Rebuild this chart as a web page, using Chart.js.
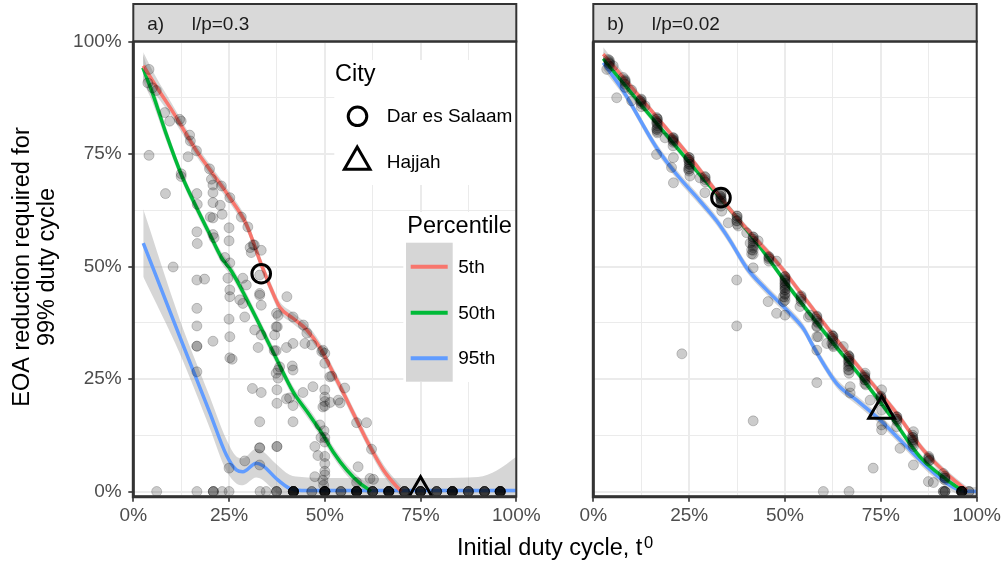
<!DOCTYPE html>
<html>
<head>
<meta charset="utf-8">
<script src="https://cdn.jsdelivr.net/npm/chart.js@4.4.0/dist/chart.umd.min.js"></script>
<style>
  html, body { margin: 0; padding: 0; background: #ffffff; }
  #wrap { position: relative; width: 1004px; height: 567px; overflow: hidden; }
  #wrap canvas { position: absolute; left: 0; top: 0; }
</style>
</head>
<body>
<div id="wrap">
  <canvas id="panelA" width="1004" height="567"></canvas>
  <canvas id="panelB" width="1004" height="567"></canvas>
</div>
<script>
// ---- tick positions and labels ----
const gridTicks = [0, 0.125, 0.25, 0.375, 0.5, 0.625, 0.75, 0.875, 1];
const majorTicks = [0, 0.25, 0.5, 0.75, 1];
const tickLabels = ['0%', '25%', '50%', '75%', '100%'];

// ---- text ----
const stripA = ['a)', 'l/p=0.3'];
const stripB = ['b)', 'l/p=0.02'];
const yTitle = ['EOA reduction required for', '99% duty cycle'];
const xTitle = 'Initial duty cycle, t';
const xTitleSup = '0';
const cityTitle = 'City';
const cities = ['Dar es Salaam', 'Hajjah'];
const percentileTitle = 'Percentile';
const percentiles = ['5th', '50th', '95th'];

// ---- panel a: scattered simulation results [duty cycle, reduction] ----
const pointsA = [
  [0.041,0.938],[0.038,0.908],[0.050,0.897],[0.060,0.891],[0.082,0.842],[0.095,0.823],[0.121,0.827],[0.125,0.823],
  [0.147,0.792],[0.149,0.779],[0.165,0.757],[0.041,0.747],[0.143,0.744],[0.199,0.717],[0.125,0.706],[0.125,0.700],
  [0.204,0.694],[0.208,0.681],[0.230,0.679],[0.084,0.662],[0.166,0.662],[0.208,0.664],[0.252,0.653],[0.167,0.638],
  [0.208,0.642],[0.227,0.636],[0.232,0.616],[0.201,0.610],[0.208,0.608],[0.282,0.610],[0.299,0.588],[0.250,0.586],
  [0.166,0.577],[0.208,0.571],[0.211,0.564],[0.250,0.557],[0.167,0.551],[0.313,0.548],[0.316,0.548],[0.305,0.542],
  [0.334,0.536],[0.308,0.531],[0.239,0.520],[0.252,0.508],[0.104,0.499],
  [0.166,0.470],[0.186,0.472],[0.247,0.474],[0.252,0.448],[0.252,0.433],[0.286,0.474],[0.295,0.459],[0.330,0.481],
  [0.330,0.440],[0.330,0.436],[0.278,0.426],[0.286,0.418],[0.334,0.414],[0.401,0.433],[0.166,0.407],[0.250,0.383],
  [0.291,0.388],[0.378,0.391],[0.374,0.396],[0.373,0.366],[0.376,0.366],[0.417,0.388],[0.166,0.368],[0.317,0.359],
  [0.334,0.348],[0.369,0.348],[0.252,0.344],[0.208,0.334],[0.166,0.323],[0.166,0.323],[0.326,0.320],[0.400,0.320],
  [0.417,0.329],[0.373,0.313],[0.368,0.313],[0.252,0.297],[0.258,0.294],[0.444,0.370],[0.453,0.352],[0.448,0.329],
  [0.466,0.326],[0.492,0.311],[0.495,0.314],[0.500,0.307],[0.500,0.285],[0.415,0.279],[0.417,0.270],[0.382,0.277],
  [0.378,0.270],[0.373,0.263],[0.378,0.252],[0.513,0.255],[0.518,0.256],[0.166,0.266],[0.311,0.229],[0.334,0.220],
  [0.375,0.226],[0.375,0.196],[0.400,0.206],[0.408,0.208],[0.417,0.191],[0.443,0.220],[0.469,0.233],[0.500,0.226],
  [0.552,0.230],[0.500,0.210],[0.500,0.200],[0.514,0.198],[0.535,0.203],[0.540,0.197],[0.500,0.190],[0.495,0.188],
  [0.330,0.155],[0.417,0.155],[0.487,0.148],[0.498,0.135],[0.500,0.120],[0.490,0.120],[0.500,0.110],[0.583,0.153],
  [0.609,0.153],[0.330,0.097],[0.330,0.097],[0.375,0.100],[0.375,0.100],[0.474,0.100],[0.622,0.094],[0.482,0.080],
  [0.500,0.078],[0.250,0.052],[0.291,0.068],[0.330,0.059],[0.500,0.062],[0.587,0.055],[0.500,0.045],[0.474,0.033],
  [0.500,0.037],[0.618,0.029],[0.627,0.027],[0.495,0.025],[0.583,0.020],[0.497,0.014]
];
// results that need no reduction (0%), with how many runs overlap at each duty cycle
const zeroAx = [0.061,0.166,0.209,0.232,0.250,0.331,0.347,0.374,0.418,0.466,0.500,0.542,0.583,0.625,0.667,0.708,0.750,0.792,0.833,0.875,0.917,0.958];
const zeroAn = [1,1,3,1,1,1,1,3,10,2,10,3,10,6,10,6,8,5,10,5,6,10];

// ---- panel a: percentile curves and their standard-error half widths ----
const red5A = [[0.026,0.946],[0.06,0.90],[0.1,0.848],[0.165,0.757],[0.2,0.715],[0.252,0.653],[0.295,0.594],[0.334,0.505],
  [0.36,0.45],[0.382,0.41],[0.417,0.385],[0.452,0.36],[0.487,0.32],[0.527,0.255],[0.553,0.211],[0.583,0.159],
  [0.618,0.10],[0.653,0.048],[0.692,0.007],[0.70,0.0]];
const red5ASe = [0.03,0.02,0.015,0.012,0.012,0.012,0.012,0.012,0.012,0.012,0.012,0.012,0.012,0.012,0.012,0.012,0.012,0.012,0.012,0.012];
const green50A = [[0.025,0.942],[0.051,0.883],[0.086,0.794],[0.125,0.705],[0.165,0.631],[0.2,0.571],[0.23,0.52],[0.256,0.49],
  [0.286,0.444],[0.33,0.37],[0.373,0.296],[0.417,0.222],[0.46,0.17],[0.495,0.126],[0.522,0.088],[0.557,0.048],
  [0.592,0.018],[0.614,0.005],[0.62,0.0]];
const green50ASe = [0.03,0.02,0.015,0.012,0.012,0.012,0.012,0.012,0.012,0.012,0.012,0.012,0.012,0.012,0.012,0.012,0.012,0.012,0.012];
const blue95A = [[0.026,0.552],[0.121,0.345],[0.2,0.175],[0.243,0.081],
  [0.269,0.048],[0.286,0.044],[0.321,0.063],[0.339,0.057],[0.373,0.029],[0.408,0.007],[0.44,0.002],[0.5,0.002],
  [0.6,0.002],[0.7,0.002],[0.8,0.002],[0.9,0.002],[0.95,0.002],[1.0,0.002]];
const blue95ASe = [0.075,0.038,0.035,0.035,0.03,0.03,0.032,0.032,0.032,0.03,0.03,0.028,0.028,0.028,0.028,0.03,0.045,0.075];

// ---- panel b ----
const pointsB = [
  [0.039,0.960],[0.042,0.955],[0.052,0.946],[0.035,0.938],[0.061,0.875],[0.078,0.920],[0.083,0.912],[0.100,0.868],
  [0.100,0.892],[0.122,0.868],[0.125,0.870],[0.135,0.857],[0.165,0.831],[0.167,0.828],[0.165,0.820],[0.165,0.805],
  [0.167,0.797],[0.187,0.786],[0.209,0.786],[0.208,0.783],[0.209,0.779],[0.165,0.749],[0.209,0.742],[0.204,0.720],
  [0.209,0.686],[0.248,0.738],[0.250,0.742],[0.252,0.727],[0.248,0.716],[0.252,0.701],[0.278,0.697],[0.291,0.700],
  [0.291,0.664],[0.330,0.657],[0.333,0.652],[0.333,0.660],[0.335,0.646],[0.335,0.623],[0.352,0.597],[0.374,0.601],
  [0.375,0.612],[0.378,0.590],[0.400,0.575],[0.417,0.565],[0.417,0.542],[0.417,0.527],[0.417,0.497],[0.430,0.557],
  [0.409,0.552],[0.413,0.537],[0.413,0.528],[0.458,0.520],[0.478,0.512],[0.374,0.470],[0.374,0.368],[0.231,0.306],
  [0.417,0.157],[0.456,0.422],[0.478,0.396],[0.500,0.392],[0.500,0.477],[0.500,0.470],[0.500,0.462],[0.500,0.455],
  [0.500,0.448],[0.500,0.440],[0.500,0.432],[0.500,0.425],[0.496,0.433],[0.496,0.422],[0.539,0.411],[0.542,0.435],
  [0.561,0.388],[0.565,0.392],[0.583,0.390],[0.587,0.374],[0.583,0.366],[0.583,0.344],[0.587,0.344],[0.583,0.314],
  [0.583,0.242],[0.609,0.329],[0.622,0.348],[0.625,0.345],[0.622,0.329],[0.626,0.322],[0.652,0.322],[0.665,0.303],
  [0.667,0.300],[0.665,0.289],[0.665,0.278],[0.665,0.270],[0.667,0.263],[0.670,0.233],[0.670,0.219],[0.709,0.263],
  [0.708,0.255],[0.709,0.248],[0.711,0.237],[0.722,0.203],[0.752,0.226],[0.750,0.210],[0.752,0.181],[0.752,0.148],
  [0.752,0.137],[0.791,0.166],[0.792,0.160],[0.791,0.144],[0.800,0.096],[0.835,0.133],[0.833,0.120],[0.835,0.114],
  [0.835,0.100],[0.835,0.059],[0.730,0.052],[0.878,0.070],[0.875,0.075],[0.874,0.022],[0.887,0.020],[0.913,0.040],
  [0.917,0.030]
];
// dense runs sitting on the median curve (dark streaks)
const streaksB = [
  [0.042,0.958],[0.042,0.950],[0.042,0.945],[0.042,0.952],
  [0.083,0.915],[0.083,0.905],[0.083,0.898],[0.083,0.910],
  [0.125,0.872],[0.125,0.862],[0.125,0.855],[0.125,0.866],
  [0.167,0.828],[0.167,0.818],[0.167,0.808],[0.167,0.800],[0.167,0.823],[0.167,0.813],[0.167,0.804],
  [0.208,0.786],[0.208,0.776],[0.208,0.768],[0.208,0.781],
  [0.250,0.742],[0.250,0.732],[0.250,0.722],[0.250,0.712],[0.250,0.737],[0.250,0.727],[0.250,0.717],
  [0.292,0.698],[0.292,0.688],[0.292,0.693],
  [0.333,0.660],[0.333,0.650],[0.333,0.642],[0.333,0.634],[0.333,0.655],[0.333,0.646],
  [0.375,0.612],[0.375,0.602],[0.375,0.594],[0.375,0.607],
  [0.417,0.566],[0.417,0.556],[0.417,0.546],[0.417,0.536],[0.417,0.561],[0.417,0.551],
  [0.458,0.522],[0.458,0.512],[0.458,0.517],
  [0.500,0.478],[0.500,0.468],[0.500,0.458],[0.500,0.448],[0.500,0.438],[0.500,0.473],[0.500,0.463],[0.500,0.453],
  [0.542,0.432],[0.542,0.422],[0.542,0.427],
  [0.583,0.388],[0.583,0.378],[0.583,0.368],[0.583,0.383],
  [0.625,0.345],[0.625,0.335],[0.625,0.325],[0.625,0.340],
  [0.667,0.300],[0.667,0.290],[0.667,0.280],[0.667,0.270],[0.667,0.295],[0.667,0.285],
  [0.708,0.258],[0.708,0.248],[0.708,0.240],[0.708,0.253],
  [0.750,0.212],[0.750,0.202],[0.750,0.207],
  [0.792,0.166],[0.792,0.156],[0.792,0.161],
  [0.833,0.125],[0.833,0.115],[0.833,0.105],[0.833,0.120],[0.833,0.110],
  [0.875,0.078],[0.875,0.068],[0.875,0.073],
  [0.917,0.034],[0.917,0.026],[0.917,0.030]
];
const zeroBx = [0.600,0.667,0.913,0.917,0.961,0.980];
const zeroBn = [1,1,2,3,10,2];

const red5B = [[0.026,0.972],[0.122,0.876],[0.252,0.743],[0.365,0.618],[0.491,0.497],[0.535,0.448],[0.635,0.337],
  [0.713,0.255],[0.791,0.174],[0.861,0.092],[0.93,0.033],[0.974,0.003]];
const red5BSe = [0.015,0.008,0.008,0.008,0.008,0.008,0.008,0.008,0.008,0.008,0.008,0.008];
const green50B = [[0.026,0.962],[0.122,0.862],[0.252,0.73],[0.333,0.65],[0.42,0.56],[0.513,0.452],[0.626,0.329],
  [0.704,0.248],[0.783,0.159],[0.852,0.077],[0.922,0.026],[0.961,0.003]];
const green50BSe = [0.015,0.008,0.008,0.008,0.008,0.008,0.008,0.008,0.008,0.008,0.008,0.008];
const blue95B = [[0.026,0.953],[0.078,0.89],[0.165,0.764],[0.217,0.705],[0.278,0.646],[0.322,0.601],[0.357,0.557],
  [0.4,0.497],[0.452,0.448],[0.513,0.396],[0.548,0.362],[0.574,0.322],[0.635,0.24],[0.687,0.203],[0.748,0.159],
  [0.809,0.107],[0.87,0.055],[0.922,0.018],[0.956,0.003],[1.0,0.0]];
const blue95BSe = [0.015,0.01,0.01,0.01,0.01,0.01,0.01,0.01,0.01,0.01,0.01,0.01,0.01,0.01,0.01,0.01,0.01,0.01,0.01,0.01];

// ---- highlighted cities [duty cycle, reduction] ----
const darA = [0.334, 0.484];
const hajjahA = [0.75, 0.0];
const darB = [0.333, 0.653];
const hajjahB = [0.752, 0.179];

// ---- look ----
const FONT = '"Liberation Sans", Arial, Helvetica, sans-serif';
const RED = '#F8766D', GREEN = '#00BA38', BLUE = '#619CFF';
const RIBBON = 'rgba(153,153,153,0.4)';
const POINT = 'rgba(0,0,0,0.2)';
const Y_MIN = -0.0115, Y_MAX = 1.0;

const isMajor = v => Math.abs(v * 4 - Math.round(v * 4)) < 1e-6;
const labelFor = v => {
  const i = majorTicks.findIndex(m => Math.abs(m - v) < 1e-6);
  return i >= 0 ? tickLabels[i] : '';
};
const toXY = arr => arr.map(p => ({ x: p[0], y: p[1] }));
const expandZeros = (xs, ns) => {
  const out = [];
  xs.forEach((x, i) => { for (let k = 0; k < ns[i]; k++) out.push({ x: x, y: 0 }); });
  return out;
};

function buildDatasets(curves, points, extra, dar, hajjah) {
  const ds = [];
  curves.forEach(c => {
    ds.push({ type: 'line', data: c.pts.map((p, i) => ({ x: p[0], y: p[1] + c.se[i] })), fill: '+1',
      backgroundColor: RIBBON, borderWidth: 0, pointRadius: 0, cubicInterpolationMode: 'monotone', order: 4 });
    ds.push({ type: 'line', data: c.pts.map((p, i) => ({ x: p[0], y: p[1] - c.se[i] })), fill: false,
      borderWidth: 0, pointRadius: 0, cubicInterpolationMode: 'monotone', order: 4 });
  });
  curves.forEach(c => {
    ds.push({ type: 'line', data: toXY(c.pts), borderColor: c.color, borderWidth: 3.5, pointRadius: 0,
      fill: false, cubicInterpolationMode: 'monotone', order: 3 });
  });
  ds.push({ type: 'scatter', data: toXY(points).concat(extra), backgroundColor: POINT, borderColor: POINT,
    borderWidth: 1, pointRadius: 5, order: 2 });
  ds.push({ type: 'scatter', data: [{ x: dar[0], y: dar[1] }], pointStyle: 'circle', pointRadius: 9.3,
    borderWidth: 3, borderColor: '#000000', backgroundColor: 'rgba(0,0,0,0)', order: 1 });
  ds.push({ type: 'scatter', data: [{ x: hajjah[0], y: hajjah[1] }], pointStyle: 'triangle', pointRadius: 14.8,
    borderWidth: 3, borderColor: '#000000', backgroundColor: 'rgba(0,0,0,0)', order: 1 });
  return ds;
}

function xScale() {
  return {
    type: 'linear', min: 0, max: 1,
    afterBuildTicks: s => { s.ticks = gridTicks.map(v => ({ value: v })); },
    afterFit: s => { s.height = 567 - 496.7; },
    border: { display: false },
    grid: {
      color: '#EBEBEB',
      lineWidth: c => (c.tick && isMajor(c.tick.value)) ? 2 : 1,
      drawTicks: true, tickLength: 5, tickWidth: 1.6,
      tickColor: c => (c.tick && isMajor(c.tick.value)) ? '#333333' : 'rgba(0,0,0,0)'
    },
    ticks: { autoSkip: false, maxRotation: 0, minRotation: 0, padding: 3, color: '#4D4D4D',
      font: { family: FONT, size: 19 }, callback: v => labelFor(v) }
  };
}

function yScale(showLabels, width) {
  return {
    type: 'linear', min: Y_MIN, max: Y_MAX,
    afterBuildTicks: s => { s.ticks = gridTicks.map(v => ({ value: v })); },
    afterFit: s => { s.width = width; },
    border: { display: false },
    grid: {
      color: '#EBEBEB',
      lineWidth: c => (c.tick && isMajor(c.tick.value)) ? 2 : 1,
      drawTicks: showLabels, tickLength: 5, tickWidth: 1.6,
      tickColor: c => (c.tick && isMajor(c.tick.value)) ? '#333333' : 'rgba(0,0,0,0)'
    },
    ticks: { display: showLabels, autoSkip: false, padding: 6.6, color: '#4D4D4D',
      font: { family: FONT, size: 19 }, callback: v => labelFor(v) }
  };
}

// strip header, panel frame and axis lines
function drawFrame(chart, strip) {
  const { ctx, chartArea: a } = chart;
  ctx.save();
  ctx.fillStyle = '#D9D9D9';
  ctx.strokeStyle = '#333333';
  ctx.lineWidth = 2;
  ctx.fillRect(a.left, 4, a.right - a.left, a.top - 4);
  ctx.strokeRect(a.left, 4, a.right - a.left, a.top - 4);
  ctx.fillStyle = '#1A1A1A';
  ctx.font = '19px ' + FONT;
  ctx.textBaseline = 'alphabetic';
  ctx.textAlign = 'left';
  ctx.fillText(strip[0], a.left + 14, 29.5);
  ctx.fillText(strip[1], a.left + 58.4, 29.5);
  ctx.strokeRect(a.left, a.top, a.right - a.left, a.bottom - a.top);
  ctx.lineWidth = 3;
  ctx.beginPath();
  ctx.moveTo(a.left, a.top);
  ctx.lineTo(a.left, a.bottom);
  ctx.lineTo(a.right, a.bottom);
  ctx.stroke();
  ctx.restore();
}

const legendBoxes = {
  id: 'legendBoxes',
  beforeDatasetsDraw(chart) {
    const ctx = chart.ctx;
    ctx.save();
    ctx.fillStyle = '#FFFFFF';
    ctx.fillRect(334.3, 60, 181, 125);
    ctx.fillRect(403.3, 212, 112, 170);
    ctx.restore();
  }
};

const decorA = {
  id: 'decorA',
  afterDraw(chart) {
    drawFrame(chart, stripA);
    const ctx = chart.ctx;
    ctx.save();
    // City legend
    ctx.fillStyle = '#000000';
    ctx.textAlign = 'left';
    ctx.textBaseline = 'alphabetic';
    ctx.font = '23.5px ' + FONT;
    ctx.fillText(cityTitle, 335, 81);
    ctx.font = '19px ' + FONT;
    ctx.fillText(cities[0], 386.7, 122.3);
    ctx.fillText(cities[1], 386.7, 168.3);
    ctx.strokeStyle = '#000000';
    ctx.lineWidth = 3;
    ctx.beginPath();
    ctx.arc(357.5, 116.3, 9.3, 0, Math.PI * 2);
    ctx.stroke();
    const tr = 14.8, tx = 357.2, ty = 161.8;
    ctx.beginPath();
    ctx.moveTo(tx, ty - tr);
    ctx.lineTo(tx + tr * Math.sin(Math.PI * 2 / 3), ty - tr * Math.cos(Math.PI * 2 / 3));
    ctx.lineTo(tx + tr * Math.sin(Math.PI * 4 / 3), ty - tr * Math.cos(Math.PI * 4 / 3));
    ctx.closePath();
    ctx.stroke();
    // Percentile legend
    ctx.font = '23.5px ' + FONT;
    ctx.fillText(percentileTitle, 407.3, 232.7);
    ctx.fillStyle = '#D6D6D6';
    ctx.fillRect(406, 242.7, 46.7, 139);
    const keyY = [266.7, 312.7, 358.3];
    const keyC = [RED, GREEN, BLUE];
    ctx.lineWidth = 4;
    keyY.forEach((y, i) => {
      ctx.strokeStyle = keyC[i];
      ctx.beginPath();
      ctx.moveTo(410.7, y);
      ctx.lineTo(447.7, y);
      ctx.stroke();
    });
    ctx.fillStyle = '#000000';
    ctx.font = '19px ' + FONT;
    keyY.forEach((y, i) => ctx.fillText(percentiles[i], 458.3, y + 6));
    // axis titles
    ctx.font = '23.5px ' + FONT;
    ctx.textAlign = 'center';
    [28.5, 53.5].forEach((x, i) => {
      ctx.save();
      ctx.translate(x, 267);
      ctx.rotate(-Math.PI / 2);
      ctx.fillText(yTitle[i], 0, 0);
      ctx.restore();
    });
    ctx.textAlign = 'left';
    const mainW = ctx.measureText(xTitle).width;
    ctx.font = '16.5px ' + FONT;
    const supW = ctx.measureText(xTitleSup).width;
    const startX = 555 - (mainW + 1.5 + supW) / 2;
    ctx.font = '23.5px ' + FONT;
    ctx.fillText(xTitle, startX, 555);
    ctx.font = '16.5px ' + FONT;
    ctx.fillText(xTitleSup, startX + mainW + 1.5, 548);
    ctx.restore();
  }
};

const decorB = {
  id: 'decorB',
  afterDraw(chart) { drawFrame(chart, stripB); }
};

const baseOptions = (padding, yOpts) => ({
  responsive: false,
  animation: false,
  devicePixelRatio: 1,
  events: [],
  layout: { padding: padding },
  plugins: { legend: { display: false }, tooltip: { enabled: false } },
  scales: { x: xScale(), y: yOpts }
});

new Chart(document.getElementById('panelA'), {
  type: 'scatter',
  data: {
    datasets: buildDatasets(
      [{ pts: red5A, se: red5ASe, color: RED }, { pts: green50A, se: green50ASe, color: GREEN }, { pts: blue95A, se: blue95ASe, color: BLUE }],
      pointsA, expandZeros(zeroAx, zeroAn), darA, hajjahA)
  },
  options: baseOptions({ left: 0, top: 41.5, right: 1004 - 516.3, bottom: 0 }, yScale(true, 133.3)),
  plugins: [legendBoxes, decorA]
});

new Chart(document.getElementById('panelB'), {
  type: 'scatter',
  data: {
    datasets: buildDatasets(
      [{ pts: red5B, se: red5BSe, color: RED }, { pts: green50B, se: green50BSe, color: GREEN }, { pts: blue95B, se: blue95BSe, color: BLUE }],
      pointsB, toXY(streaksB).concat(expandZeros(zeroBx, zeroBn)), darB, hajjahB)
  },
  options: baseOptions({ left: 540, top: 41.5, right: 1004 - 976.7, bottom: 0 }, yScale(false, 53.3)),
  plugins: [decorB]
});
</script>
</body>
</html>
